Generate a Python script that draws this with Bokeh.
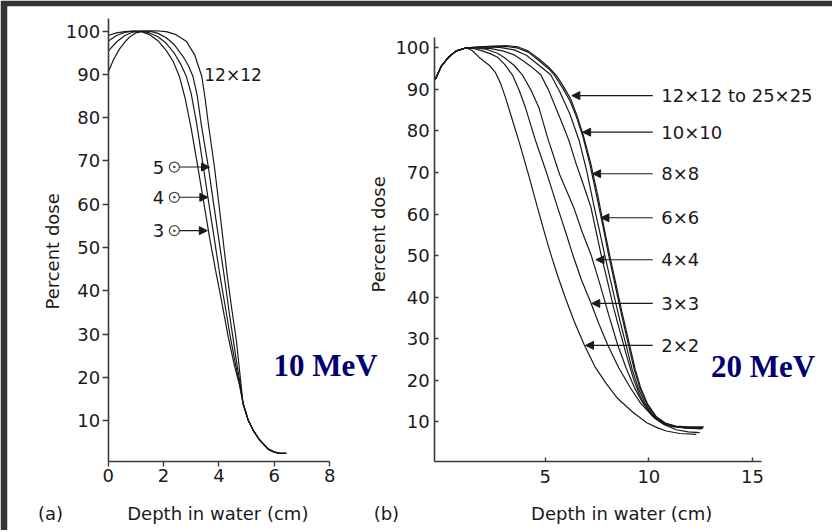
import math
from bokeh.plotting import figure
from bokeh.models import (Label, Arrow, NormalHead, ColumnDataSource, FixedTicker,
                          LinearAxis, Range1d)
from bokeh.embed import file_html
from bokeh.resources import INLINE

# ---------------- Panel (a): 10 MeV ----------------
a_x_ticks = [0, 2, 4, 6, 8]
a_y_ticks = [10, 20, 30, 40, 50, 60, 70, 80, 90, 100]

a_depth_3 = [0, 0.3, 0.6, 0.9, 1.2, 1.5, 1.8, 2.1, 2.35, 2.57, 2.78, 3.0, 3.24, 3.45, 3.67, 3.9, 4.1, 4.33, 4.55, 4.75]
a_dose_3 = [99.0, 99.6, 99.9, 100.0, 99.9, 99.2, 97.8, 95.5, 93.0, 89.6, 84.5, 77.5, 68.5, 60.5, 52.0, 44.0, 37.5, 29.5, 23.0, 18.0]

a_depth_4 = [0, 0.3, 0.6, 0.9, 1.2, 1.5, 1.8, 2.1, 2.4, 2.62, 2.82, 3.0, 3.2, 3.44, 3.64, 3.84, 4.05, 4.25, 4.42, 4.6, 4.75]
a_dose_4 = [97.7, 99.0, 99.7, 100.0, 100.0, 99.6, 98.7, 97.2, 94.8, 92.4, 89.6, 85.5, 78.5, 68.5, 60.0, 51.7, 43.0, 35.5, 29.0, 23.0, 18.3]

a_depth_5 = [0, 0.3, 0.6, 0.9, 1.2, 1.5, 1.8, 2.1, 2.4, 2.7, 2.9, 3.06, 3.22, 3.36, 3.62, 3.8, 4.0, 4.2, 4.36, 4.51, 4.65, 4.77]
a_dose_5 = [95.4, 97.5, 99.0, 99.8, 100.0, 100.0, 99.5, 98.5, 96.8, 94.2, 92.0, 89.6, 85.0, 78.5, 68.5, 60.5, 51.7, 43.0, 35.5, 29.0, 23.0, 18.5]

a_depth_12 = [0, 0.2, 0.4, 0.6, 0.8, 1.0, 1.3, 1.7, 2.1, 2.45, 2.82, 3.12, 3.38, 3.5, 3.62, 3.84, 4.0, 4.15, 4.3, 4.47, 4.63, 4.78]
a_dose_12 = [90.5, 93.5, 95.8, 97.5, 98.8, 99.6, 100.0, 100.1, 99.9, 99.2, 97.7, 94.6, 89.6, 84.5, 78.5, 68.5, 60.0, 51.7, 43.5, 35.5, 28.5, 19.5]

a_tail_depth = [4.87, 5.05, 5.25, 5.47, 5.78, 6.0, 6.2, 6.43]
a_tail_dose = [14.0, 10.2, 7.6, 5.5, 3.4, 2.7, 2.4, 2.4]

a_field_labels = ["5", "4", "3"]
a_label_dose = [68.6, 61.6, 53.9]
a_marker_depth = [2.39, 2.39, 2.39]
a_arrow_start = [2.58, 2.58, 2.58]
a_arrow_tip = [3.66, 3.60, 3.58]

# ---------------- Panel (b): 20 MeV ----------------
b_x_ticks = [5, 10, 15]
b_y_ticks = [10, 20, 30, 40, 50, 60, 70, 80, 90, 100]

b_rise_depth = [-0.3, 0.0, 0.36, 0.7]
b_rise_dose = [92.3, 95.6, 97.8, 99.2]

b_depth_2 = [1.2, 1.5, 1.8, 2.1, 2.35, 2.61, 2.85, 3.1, 3.4, 3.74, 4.2, 4.63, 5.0, 5.27, 5.6, 6.0, 6.4, 6.89, 7.4, 7.93, 8.5, 9.23, 9.9, 10.4, 10.84, 11.5, 12.29]
b_dose_2 = [100.0, 99.3, 97.8, 96.6, 95.6, 94.0, 91.5, 87.9, 83.0, 77.5, 69.5, 61.6, 55.0, 50.4, 45.2, 39.5, 34.2, 28.5, 23.3, 19.3, 15.6, 12.3, 9.8, 8.6, 7.8, 7.2, 7.0]

b_depth_3 = [1.2, 1.6, 2.0, 2.35, 2.69, 3.05, 3.42, 3.75, 4.06, 4.55, 5.1, 5.6, 6.0, 6.32, 6.75, 7.21, 7.6, 8.02, 8.55, 9.07, 9.6, 10.19, 10.75, 11.32, 11.9, 12.45]
b_dose_3 = [100.0, 99.8, 99.2, 98.6, 97.8, 96.0, 93.5, 89.8, 85.5, 77.5, 69.5, 61.6, 55.5, 50.4, 44.2, 38.6, 33.5, 28.5, 23.0, 18.5, 14.5, 11.3, 9.3, 8.1, 7.6, 7.4]

b_depth_4 = [1.2, 1.7, 2.2, 2.7, 3.1, 3.5, 3.9, 4.3, 4.71, 5.11, 5.7, 6.38, 6.8, 7.2, 7.65, 8.08, 8.5, 8.9, 9.3, 9.7, 10.1, 10.6, 11.1, 11.8, 12.55]
b_dose_4 = [100.0, 100.0, 99.6, 98.7, 97.4, 95.8, 93.5, 90.0, 85.5, 78.5, 69.5, 61.6, 55.5, 50.4, 43.0, 35.5, 28.5, 23.0, 18.3, 14.6, 12.0, 10.0, 9.0, 8.5, 8.3]

b_depth_6 = [1.2, 1.8, 2.4, 3.0, 3.5, 3.9, 4.35, 4.79, 5.15, 5.52, 5.85, 6.16, 6.5, 6.85, 7.21, 7.45, 7.69, 8.0, 8.3, 8.65, 8.95, 9.25, 9.55, 9.9, 10.3, 10.7, 11.2, 11.9, 12.6]
b_dose_6 = [100.0, 100.0, 99.8, 99.2, 98.3, 97.0, 95.4, 93.5, 90.0, 85.5, 81.5, 77.5, 72.0, 67.0, 61.6, 56.0, 50.4, 44.0, 37.5, 31.0, 25.5, 20.5, 16.5, 13.2, 10.8, 9.5, 8.8, 8.5, 8.4]

b_depth_8 = [1.2, 2.0, 2.8, 3.5, 4.1, 4.7, 5.27, 5.7, 6.2, 6.65, 7.0, 7.37, 7.62, 7.86, 8.2, 8.55, 8.9, 9.2, 9.5, 9.85, 10.2, 10.6, 11.1, 11.8, 12.6]
b_dose_8 = [100.0, 100.2, 100.1, 99.5, 98.2, 95.8, 93.5, 89.5, 84.0, 77.5, 70.5, 61.6, 56.0, 50.4, 43.0, 35.5, 28.5, 22.5, 18.0, 14.2, 11.5, 9.9, 9.0, 8.6, 8.6]

b_depth_10 = [1.2, 1.8, 2.5, 3.2, 3.7, 4.2, 4.71, 5.2, 5.44, 5.85, 6.2, 6.5, 6.81, 7.15, 7.5, 7.8, 8.05, 8.35, 8.65, 9.02, 9.3, 9.58, 9.92, 10.3, 10.75, 11.25, 11.9, 12.6]
b_dose_10 = [100.0, 100.1, 100.3, 100.3, 99.9, 98.9, 96.9, 94.8, 93.5, 90.3, 87.2, 83.5, 78.8, 72.2, 64.0, 56.8, 50.4, 43.5, 36.5, 28.5, 22.5, 18.0, 14.2, 11.3, 9.6, 8.9, 8.7, 8.6]

b_depth_12 = [1.2, 1.8, 2.5, 3.2, 3.7, 4.2, 4.71, 5.2, 5.55, 5.9, 6.25, 6.55, 6.85, 7.2, 7.58, 7.85, 8.1, 8.4, 8.7, 9.07, 9.35, 9.62, 9.95, 10.35, 10.8, 11.3, 11.9, 12.65]
b_dose_12 = [100.0, 100.2, 100.4, 100.5, 100.2, 99.2, 97.3, 95.2, 93.3, 90.6, 87.5, 83.5, 78.8, 72.2, 63.5, 56.5, 50.4, 43.5, 36.5, 28.5, 22.5, 18.0, 14.2, 11.3, 9.7, 9.0, 8.8, 8.8]

b_field_labels = ["12×12 to 25×25", "10×10", "8×8", "6×6", "4×4", "3×3", "2×2"]
b_label_dose = [88.5, 79.7, 69.7, 59.1, 49.0, 38.5, 28.4]
b_arrow_tail = [10.19] * 7
b_arrow_tip = [6.29, 6.81, 7.29, 7.69, 7.45, 7.25, 6.95]
b_label_depth = 10.6

SANS = "DejaVu Sans"
SERIF = "Liberation Serif"
INK = "#1a1a1a"
AXIS = "#3a3a3a"
NAVY = "#000070"

W, H = 832, 530
BL, BT = 7, 6      # dark strips at left / top of the picture
PAD_R = 3          # right-hand border Bokeh keeps beside the frame

# pixel geometry of the two panels (page position of data values)
A_X0, A_XS = 107.3, 27.59     # px of depth 0, px per cm
A_Y0, A_YS = 463.3, 4.326     # px of dose 0, px per %
B_X0, B_XS = 439.3, 20.67
B_Y0, B_YS = 462.9, 4.156

FX0, FX1, FY0, FY1 = BL, W - PAD_R, BT, H   # frame edges on the page
a_xr = Range1d((FX0 - A_X0) / A_XS, (FX1 - A_X0) / A_XS)
a_yr = Range1d((A_Y0 - FY1) / A_YS, (A_Y0 - FY0) / A_YS)
b_xr = Range1d((FX0 - B_X0) / B_XS, (FX1 - B_X0) / B_XS)
b_yr = Range1d((B_Y0 - FY1) / B_YS, (B_Y0 - FY0) / B_YS)

p = figure(width=W, height=H, x_range=a_xr, y_range=a_yr,
           x_axis_type=None, y_axis_type=None, title=None,
           output_backend="svg", toolbar_location=None,
           min_border=0, min_border_left=BL, min_border_top=BT,
           min_border_right=0, min_border_bottom=0)
p.extra_x_ranges = {"b": b_xr}
p.extra_y_ranges = {"b": b_yr}
p.grid.visible = False
p.outline_line_color = None
p.background_fill_color = "white"
p.border_fill_color = "#353535"


def style_axis(ax, ticks, t_in, t_out, standoff):
    ax.ticker = FixedTicker(ticks=ticks)
    ax.axis_line_color = AXIS
    ax.axis_line_width = 1.6
    ax.major_tick_line_color = AXIS
    ax.major_tick_line_width = 1.4
    ax.major_tick_in = t_in
    ax.major_tick_out = t_out
    ax.minor_tick_line_color = None
    ax.major_label_text_font = SANS
    ax.major_label_text_font_size = "18px"
    ax.major_label_text_color = INK
    ax.major_label_standoff = standoff
    return ax


# axes of panel (a)
ax_a_x = style_axis(LinearAxis(fixed_location=0.6, bounds=(0, 8)), a_x_ticks, 0, 5, 3)
ax_a_y = style_axis(LinearAxis(fixed_location=0, bounds=(0.6, 102.9)), a_y_ticks, 0, 6, 2)
p.add_layout(ax_a_x, "below")
p.add_layout(ax_a_y, "left")
# axes of panel (b)
ax_b_x = style_axis(LinearAxis(x_range_name="b", y_range_name="b", fixed_location=0.53,
                               bounds=(-0.32, 15.43)), b_x_ticks, 4, 0, 9)
ax_b_y = style_axis(LinearAxis(x_range_name="b", y_range_name="b", fixed_location=-0.32,
                               bounds=(0.53, 102.4)), b_y_ticks, 4, 0, 5)
p.add_layout(ax_b_x, "below")
p.add_layout(ax_b_y, "left")


def add_label(x, y, text, size="18px", font=SANS, align="center", baseline="alphabetic",
              angle=0.0, color=INK, style="normal", rng="default"):
    p.add_layout(Label(x=x, y=y, text=text, text_font=font, text_font_size=size,
                       text_align=align, text_baseline=baseline, angle=angle,
                       text_color=color, text_font_style=style,
                       x_range_name=rng, y_range_name=rng))


# ---------- panel (a) marks ----------
for dx, dy in [(a_depth_3, a_dose_3), (a_depth_4, a_dose_4),
               (a_depth_5, a_dose_5), (a_depth_12, a_dose_12)]:
    p.line(dx + a_tail_depth, dy + a_tail_dose, line_color=INK, line_width=1.2)

src_a = ColumnDataSource(dict(xs=a_arrow_start, xe=a_arrow_tip, y=a_label_dose))
p.add_layout(Arrow(end=NormalHead(size=8, fill_color=INK, line_color=INK, line_width=1),
                   x_start="xs", y_start="y", x_end="xe", y_end="y", source=src_a,
                   line_color=INK, line_width=1.1))
p.scatter(a_marker_depth, a_label_dose, marker="circle_dot", size=10,
          line_color="#444444", fill_color="white", line_width=1.2)
for t, yv in zip(a_field_labels, a_label_dose):
    add_label(2.02, yv, t, size="18px", align="right", baseline="middle")
add_label(3.47, 89.9, "12×12", size="17px", align="left", baseline="middle")
add_label(5.97, 22.7, "10 MeV", size="31px", font=SERIF, align="left", color=NAVY, style="bold")
add_label(-2.0, 49.1, "Percent dose", size="18px", baseline="middle", angle=math.pi / 2)
add_label(3.96, -11.4, "Depth in water (cm)", size="18px")
add_label(-2.08, -11.4, "(a)", size="18px")

# ---------- panel (b) marks ----------
for dx, dy in [(b_depth_2, b_dose_2), (b_depth_3, b_dose_3), (b_depth_4, b_dose_4),
               (b_depth_6, b_dose_6), (b_depth_8, b_dose_8), (b_depth_10, b_dose_10),
               (b_depth_12, b_dose_12)]:
    p.line(b_rise_depth + dx, b_rise_dose + dy, line_color=INK, line_width=1.2,
           x_range_name="b", y_range_name="b")

src_b = ColumnDataSource(dict(xs=b_arrow_tail, xe=b_arrow_tip, y=b_label_dose))
p.add_layout(Arrow(end=NormalHead(size=8, fill_color=INK, line_color=INK, line_width=1),
                   x_start="xs", y_start="y", x_end="xe", y_end="y", source=src_b,
                   line_color=INK, line_width=1.1, x_range_name="b", y_range_name="b"))
for t, yv in zip(b_field_labels, b_label_dose):
    add_label(b_label_depth, yv, t, size="18px", align="left", baseline="middle", rng="b")
add_label(13.0, 23.3, "20 MeV", size="31px", font=SERIF, align="left", color=NAVY,
          style="bold", rng="b")
add_label(-3.01, 55.1, "Percent dose", size="18px", baseline="middle", angle=math.pi / 2, rng="b")
add_label(8.69, -12.1, "Depth in water (cm)", size="18px", rng="b")
add_label(-2.65, -12.1, "(b)", size="18px", rng="b")

open("out.html", "w").write(file_html(p, INLINE))
